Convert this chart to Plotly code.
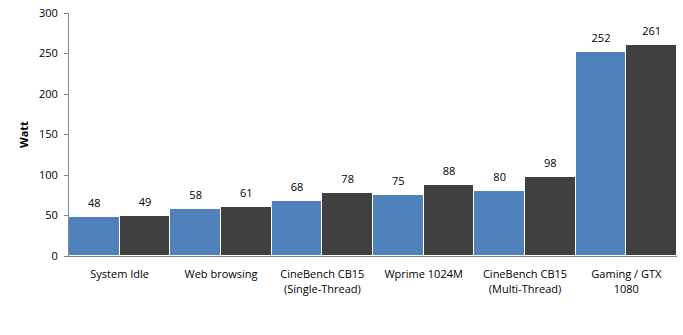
import plotly.graph_objects as go

categories = ["System Idle", "Web browsing", "CineBench CB15<br>(Single-Thread)",
              "Wprime 1024M", "CineBench CB15<br>(Multi-Thread)", "Gaming / GTX<br>1080"]
series_a = [48, 58, 68, 75, 80, 252]
series_b = [49, 61, 78, 88, 98, 261]
y_ticks = [0, 50, 100, 150, 200, 250, 300]

font = "Open Sans, Liberation Sans, sans-serif"

fig = go.Figure()
for name, vals, col in (("a", series_a, "#4F81BD"), ("b", series_b, "#404040")):
    fig.add_bar(x=categories, y=vals, offsetgroup=name,
                marker=dict(color=col, line=dict(color="white", width=1)))
for name, vals in (("a", series_a), ("b", series_b)):
    fig.add_scatter(x=categories, y=vals, offsetgroup=name, mode="markers+text",
                    marker=dict(size=10, opacity=0), text=[str(v) for v in vals],
                    textposition="top center", cliponaxis=False, hoverinfo="skip",
                    textfont=dict(size=11, color="black", family=font))

fig.update_layout(
    width=683, height=335,
    margin=dict(l=69, r=6, t=13, b=79),
    paper_bgcolor="white", plot_bgcolor="white",
    barmode="group", bargap=0, bargroupgap=0,
    scattermode="group", scattergap=0,
    showlegend=False,
    font=dict(family=font, size=11, color="black"),
)
fig.update_yaxes(range=[0, 300], tickvals=y_ticks, showgrid=False,
                 showline=True, linecolor="#868686", linewidth=1,
                 ticks="outside", ticklen=4, tickcolor="#868686",
                 tickfont=dict(size=11, family=font), ticklabelstandoff=4,
                 title=dict(text="<b>Watt</b>", font=dict(size=11, family=font), standoff=8),
                 zeroline=False)
fig.update_xaxes(showline=True, linecolor="#868686", linewidth=1, ticks="",
                 tickfont=dict(size=11, family=font), tickangle=0, ticklabelstandoff=8)

fig.write_html("out.html")
